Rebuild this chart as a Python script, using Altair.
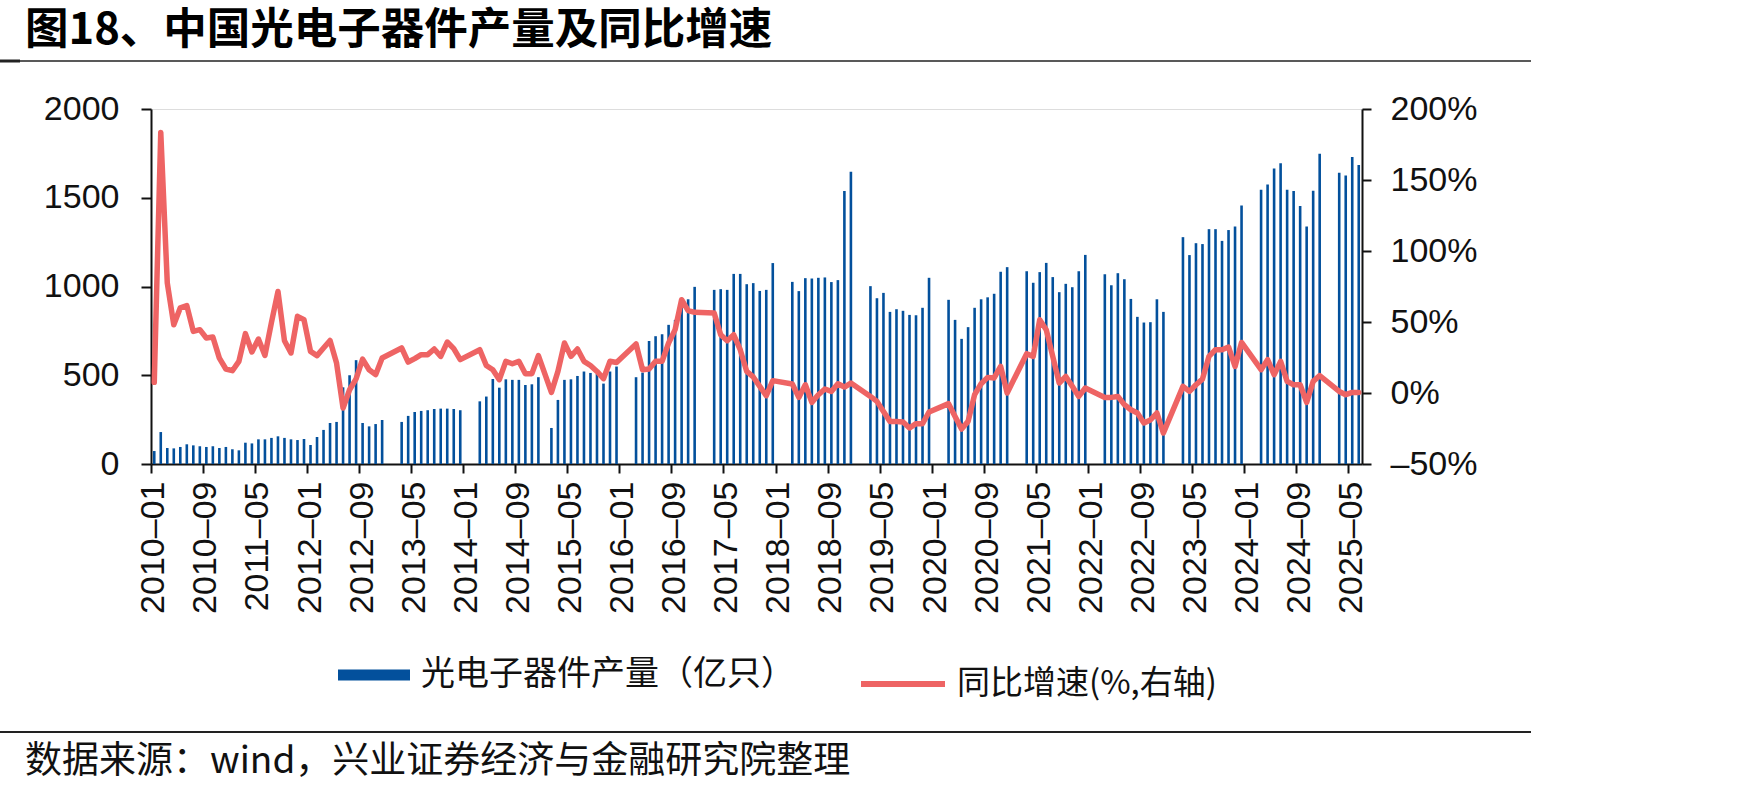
import altair as alt
import pandas as pd

# ---------------- data ----------------
months = [f"{y}-{m:02d}" for y in range(2010, 2026) for m in range(1, 13)][:186]
tick_months = months[::8]

prod_2010 = [73, 180, 90, 88, 96, 111, 105, 100, 96, 100, 90, 96]
prod_2011 = [83, 77, 120, 116, 139, 139, 147, 156, 147, 139, 135, 141]
prod_2012 = [107, 152, 192, 231, 237, 432, 500, 585, 231, 212, 225, 248]
prod_2013 = [None, None, 237, 271, 293, 299, 303, 310, 312, 312, 310, 303]
prod_2014 = [None, None, 353, 380, 479, 430, 477, 474, 474, 445, 449, 489]
prod_2015 = [None, 203, 361, 474, 477, 496, 521, 513, 507, 453, 521, 549]
prod_2016 = [None, None, 489, 515, 693, 720, 731, 784, 812, 897, 928, 998]
prod_2017 = [None, None, 981, 985, 981, 1071, 1071, 1013, 1019, 975, 981, 1132]
prod_2018 = [None, None, 1026, 974, 1047, 1045, 1049, 1051, 1025, 1036, 1538, 1646]
prod_2019 = [None, None, 1002, 934, 964, 857, 872, 863, 840, 838, 880, 1049]
prod_2020 = [None, None, 925, 812, 705, 771, 880, 928, 939, 959, 1083, 1109]
prod_2021 = [None, None, 1086, 1021, 1081, 1133, 1053, 968, 1015, 996, 1086, 1178]
prod_2022 = [None, None, 1069, 1007, 1075, 1041, 930, 829, 797, 799, 928, 857]
prod_2023 = [None, None, 1278, 1177, 1244, 1239, 1323, 1323, 1257, 1318, 1338, 1457]
prod_2024 = [None, None, 1545, 1575, 1665, 1695, 1545, 1538, 1453, 1338, 1539, 1748]
prod_2025 = [None, None, 1641, 1626, 1729, 1684]

yoy_2010 = [7.5, 183.5, 77.5, 48, 60, 61.5, 43.4, 44.6, 38.7, 39.4, 24.6, 16.9]
yoy_2011 = [15.7, 22.3, 41.8, 28.9, 38, 26.5, 49.7, 71.5, 36.8, 28.2, 54, 51.6]
yoy_2012 = [29.3, 26.3, 31.7, 37, 21.1, -10.6, 2.3, 10, 23.9, 16.4, 12.9, 24.6]
yoy_2013 = [None, None, 31.7, 21.8, 24.2, 27, 27, 31, 25.8, 35.9, 31.2, 23.5]
yoy_2014 = [None, None, 30.5, 19.4, 16.4, 9.4, 22.3, 20.6, 22.3, 13.6, 13.6, 26.3]
yoy_2015 = [None, 0.4, 15.2, 35.2, 25.8, 31, 22.3, 19.4, 15.2, 10.1, 22.3, 21.5]
yoy_2016 = [None, None, 34.5, 16.4, 16.9, 22.3, 22.3, 35.2, 44.6, 65.7, 58, 56.8]
yoy_2017 = [None, None, 56.3, 41, 36.8, 41, 30.5, 15.2, 11.3, 4.7, -1.9, 8.7]
yoy_2018 = [None, None, 6.3, -3.1, 5.8, -6.6, -1.2, 2.8, 1.1, 6.5, 4.2, 7]
yoy_2019 = [None, None, -2.4, -5.9, -13, -20, -20, -20.4, -24.6, -21.6, -21.6, -13.4]
yoy_2020 = [None, None, -7.5, -16.5, -25.4, -20, -1.2, 6.5, 11, 10.6, 18.7, 0]
yoy_2021 = [None, None, 27.7, 25.8, 51.6, 44.6, 25.8, 7, 11.7, 4.7, -2.4, 3.5]
yoy_2022 = [None, None, -3.1, -3.1, -2.4, -8.2, -11.8, -14.1, -21.1, -19, -14.1, -28.2]
yoy_2023 = [None, None, 4.7, 1.1, 5.8, 9.8, 25.8, 30.5, 30.5, 32.4, 18.7, 35.6]
yoy_2024 = [None, None, 16.4, 23.5, 12.9, 22.3, 8.2, 5.8, 5.8, -6.6, 8.2, 12.2]
yoy_2025 = [None, None, 1.1, -1.2, 0.4, 0.4]

production = (prod_2010 + prod_2011 + prod_2012 + prod_2013 + prod_2014 + prod_2015
              + prod_2016 + prod_2017 + prod_2018 + prod_2019 + prod_2020 + prod_2021
              + prod_2022 + prod_2023 + prod_2024 + prod_2025)
yoy = (yoy_2010 + yoy_2011 + yoy_2012 + yoy_2013 + yoy_2014 + yoy_2015 + yoy_2016
       + yoy_2017 + yoy_2018 + yoy_2019 + yoy_2020 + yoy_2021 + yoy_2022 + yoy_2023
       + yoy_2024 + yoy_2025)

bar_label = "光电子器件产量（亿只）"
line_label = "同比增速(%,右轴)"
title_text = "图18、中国光电子器件产量及同比增速"
source_text = "数据来源：wind，兴业证券经济与金融研究院整理"

df_bar = pd.DataFrame({
    "month": [m for m, v in zip(months, production) if v is not None],
    "value": [v for v in production if v is not None],
    "series": bar_label,
})
df_line = pd.DataFrame({
    "month": [m for m, v in zip(months, yoy) if v is not None],
    "yoy": [v for v in yoy if v is not None],
    "series": line_label,
})

# ---------------- styles ----------------
BLUE = "#03509C"
RED = "#EE6464"
W, H = 1211, 355
PL, PT = 151, 109
LAT = "Liberation Sans"
CJK = "Noto Sans CJK SC"

x_enc = alt.X(
    "month:O",
    scale=alt.Scale(type="band", domain=months, paddingInner=0, paddingOuter=0),
    axis=alt.Axis(
        values=tick_months, labelAngle=-90, bandPosition=0,
        labelExpr="replace(datum.value, '-', '–')",
        labelFont=LAT, labelFontSize=34, labelColor="#111",
        labelPadding=8, tickSize=9, tickWidth=2, tickColor="#111",
        domainColor="#111", domainWidth=2, grid=False, title=None,
    ),
)

bars = alt.Chart(df_bar).mark_bar(width=2.6).encode(
    x=x_enc,
    y=alt.Y(
        "value:Q",
        scale=alt.Scale(domain=[0, 2000], nice=False),
        axis=alt.Axis(
            orient="left", values=[0, 500, 1000, 1500, 2000], format="d",
            labelFont=LAT, labelFontSize=34, labelColor="#111",
            labelPadding=22, tickSize=10, tickWidth=2, tickColor="#111",
            domainColor="#111", domainWidth=2, grid=False, title=None,
        ),
    ),
    color=alt.Color(
        "series:N",
        scale=alt.Scale(domain=[bar_label], range=[BLUE]),
        legend=alt.Legend(
            title=None, orient="none", legendX=187, legendY=530,
            symbolType="M-1,-0.155H1V0.155H-1Z", symbolSize=5184,
            symbolStrokeWidth=0, labelFont=CJK, labelFontSize=34,
            labelColor="#111", labelOffset=11, labelLimit=600, padding=0,
        ),
    ),
)

line = alt.Chart(df_line).mark_line(strokeWidth=5.5, strokeJoin="round", strokeCap="round").encode(
    x=x_enc,
    y=alt.Y(
        "yoy:Q",
        scale=alt.Scale(domain=[-50, 200], nice=False),
        axis=alt.Axis(
            orient="right", values=[-50, 0, 50, 100, 150, 200],
            labelExpr="replace(datum.value + '%', '-', '–')",
            labelFont=LAT, labelFontSize=34, labelColor="#111",
            labelPadding=19, tickSize=9, tickWidth=2, tickColor="#111",
            domainColor="#111", domainWidth=2, grid=False, title=None,
        ),
    ),
    stroke=alt.Stroke(
        "series:N",
        scale=alt.Scale(domain=[line_label], range=[RED]),
        legend=alt.Legend(
            title=None, orient="none", legendX=707, legendY=530,
            symbolType="M-1,0H1", symbolSize=7056, symbolStrokeWidth=6,
            labelFont=CJK, labelFontSize=33, labelColor="#111",
            labelOffset=9, labelLimit=600, padding=0,
        ),
    ),
)

# decorative frame lines and source note
one = pd.DataFrame({"k": [0]})
top_rule = alt.Chart(one).mark_rule(color="#222", strokeWidth=1.5).encode(
    x=alt.value(-PL), x2=alt.value(1531 - PL), y=alt.value(61 - PT)
)
top_mark = alt.Chart(one).mark_rule(color="#222", strokeWidth=3).encode(
    x=alt.value(-PL), x2=alt.value(20 - PL), y=alt.value(61 - PT)
)
bottom_rule = alt.Chart(one).mark_rule(color="#222", strokeWidth=2).encode(
    x=alt.value(-PL), x2=alt.value(1531 - PL), y=alt.value(732 - PT)
)
source = alt.Chart(pd.DataFrame({"t": [source_text]})).mark_text(
    align="left", baseline="middle", font=CJK, fontSize=37, color="#111"
).encode(x=alt.value(25 - PL), y=alt.value(762 - PT), text="t:N")

chart = alt.layer(bars, line, top_rule, top_mark, bottom_rule, source).resolve_scale(
    y="independent"
).properties(
    width=W, height=H,
    title=alt.TitleParams(
        title_text, anchor="start", frame="group", dx=25 - PL, offset=6,
        font=CJK, fontSize=43.5, fontWeight="bold", color="#000",
    ),
    autosize=alt.AutoSizeParams(type="none"),
    padding={"left": PL, "top": PT, "right": 1748 - PL - W, "bottom": 794 - PT - H},
).configure_view(strokeOpacity=0).configure(background="white")

chart.save("out.html", embed_options={"renderer": "svg", "actions": False})
